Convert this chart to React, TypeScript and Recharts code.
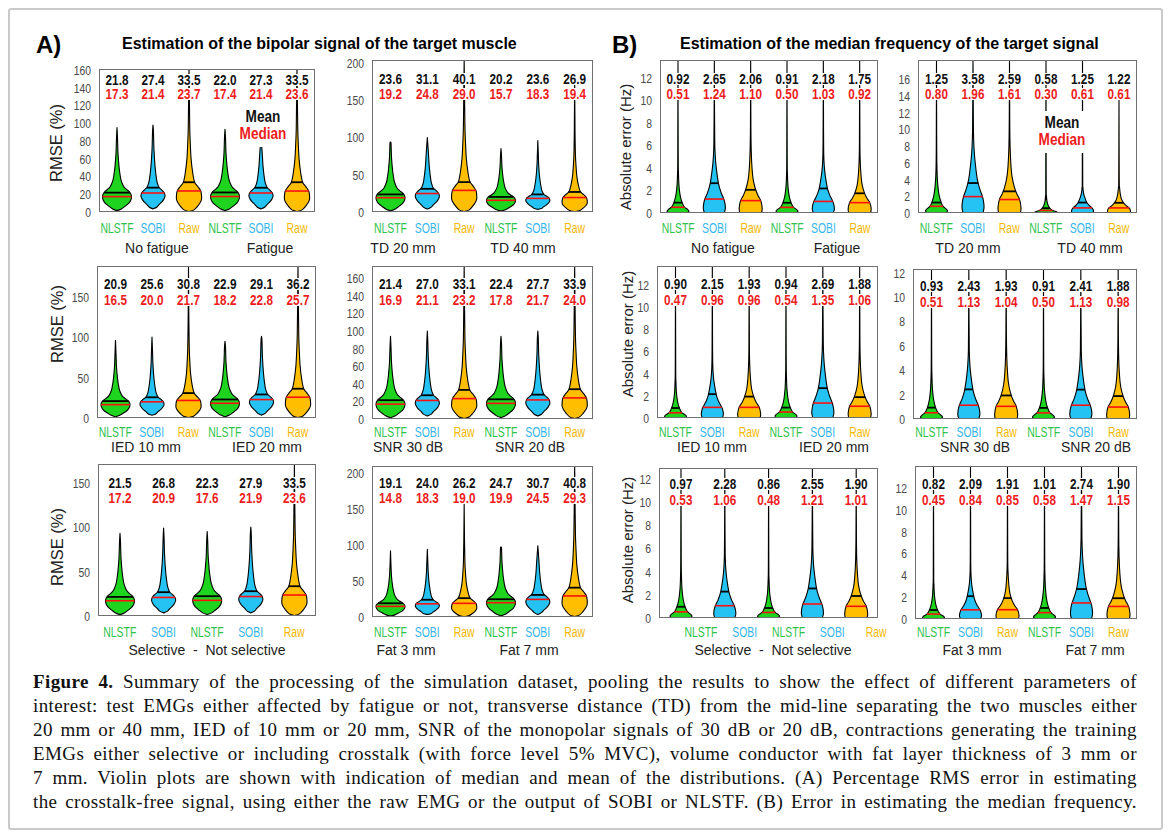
import React from 'react';
import { ComposedChart, Bar, XAxis, YAxis } from 'recharts';

type Method = 'NLSTF' | 'SOBI' | 'Raw';
interface Violin {
  method: Method;
  mean: number;
  median: number;
  min: number;
  max: number; // tail top; values above the axis run to the frame
}

// A) RMSE (%) of the estimated bipolar signal
const fatigueRmse: Violin[] = [
  { method: 'NLSTF', mean: 21.8, median: 17.3, min: 1.5, max: 95 },
  { method: 'SOBI', mean: 27.4, median: 21.4, min: 3.5, max: 98 },
  { method: 'Raw', mean: 33.5, median: 23.7, min: 0.5, max: 250 },
  { method: 'NLSTF', mean: 22.0, median: 17.4, min: 1.5, max: 93 },
  { method: 'SOBI', mean: 27.3, median: 21.4, min: 3.5, max: 77 },
  { method: 'Raw', mean: 33.5, median: 23.6, min: 0.5, max: 250 },
];
const tdRmse: Violin[] = [
  { method: 'NLSTF', mean: 23.6, median: 19.2, min: 1.5, max: 93 },
  { method: 'SOBI', mean: 31.1, median: 24.8, min: 4, max: 100 },
  { method: 'Raw', mean: 40.1, median: 29.0, min: 0.5, max: 250 },
  { method: 'NLSTF', mean: 20.2, median: 15.7, min: 1.5, max: 85 },
  { method: 'SOBI', mean: 23.6, median: 18.3, min: 3.5, max: 96 },
  { method: 'Raw', mean: 26.9, median: 19.4, min: 0.5, max: 178 },
];
const iedRmse: Violin[] = [
  { method: 'NLSTF', mean: 20.9, median: 16.5, min: 1.5, max: 96 },
  { method: 'SOBI', mean: 25.6, median: 20.0, min: 3.5, max: 100 },
  { method: 'Raw', mean: 30.8, median: 21.7, min: 0.5, max: 250 },
  { method: 'NLSTF', mean: 22.9, median: 18.2, min: 1.5, max: 95 },
  { method: 'SOBI', mean: 29.1, median: 22.8, min: 3.5, max: 101 },
  { method: 'Raw', mean: 36.2, median: 25.7, min: 0.5, max: 250 },
];
const snrRmse: Violin[] = [
  { method: 'NLSTF', mean: 21.4, median: 16.9, min: 1.5, max: 94 },
  { method: 'SOBI', mean: 27.0, median: 21.1, min: 3.5, max: 100 },
  { method: 'Raw', mean: 33.1, median: 23.2, min: 0.5, max: 250 },
  { method: 'NLSTF', mean: 22.4, median: 17.8, min: 1.5, max: 94 },
  { method: 'SOBI', mean: 27.7, median: 21.7, min: 3.5, max: 100 },
  { method: 'Raw', mean: 33.9, median: 24.0, min: 0.5, max: 250 },
];
const selectiveRmse: Violin[] = [
  { method: 'NLSTF', mean: 21.5, median: 17.2, min: 1.5, max: 93 },
  { method: 'SOBI', mean: 26.8, median: 20.9, min: 3.5, max: 99 },
  { method: 'NLSTF', mean: 22.3, median: 17.6, min: 1.5, max: 95 },
  { method: 'SOBI', mean: 27.9, median: 21.9, min: 3.5, max: 100 },
  { method: 'Raw', mean: 33.5, median: 23.6, min: 0.5, max: 250 },
];
const fatRmse: Violin[] = [
  { method: 'NLSTF', mean: 19.1, median: 14.8, min: 1.5, max: 92 },
  { method: 'SOBI', mean: 24.0, median: 18.3, min: 3.5, max: 94 },
  { method: 'Raw', mean: 26.2, median: 19.0, min: 0.5, max: 158 },
  { method: 'NLSTF', mean: 24.7, median: 19.9, min: 1.5, max: 96 },
  { method: 'SOBI', mean: 30.7, median: 24.5, min: 3.5, max: 99 },
  { method: 'Raw', mean: 40.8, median: 29.3, min: 0.5, max: 250 },
];

// B) absolute error of the median frequency (Hz)
const fatigueMdf: Violin[] = [
  { method: 'NLSTF', mean: 0.92, median: 0.51, min: 0, max: 20 },
  { method: 'SOBI', mean: 2.65, median: 1.24, min: 0, max: 20 },
  { method: 'Raw', mean: 2.06, median: 1.10, min: 0, max: 20 },
  { method: 'NLSTF', mean: 0.91, median: 0.50, min: 0, max: 20 },
  { method: 'SOBI', mean: 2.18, median: 1.03, min: 0, max: 20 },
  { method: 'Raw', mean: 1.75, median: 0.92, min: 0, max: 20 },
];
const tdMdf: Violin[] = [
  { method: 'NLSTF', mean: 1.25, median: 0.80, min: 0, max: 25 },
  { method: 'SOBI', mean: 3.58, median: 1.96, min: 0, max: 25 },
  { method: 'Raw', mean: 2.59, median: 1.61, min: 0, max: 25 },
  { method: 'NLSTF', mean: 0.58, median: 0.30, min: 0, max: 25 },
  { method: 'SOBI', mean: 1.25, median: 0.61, min: 0, max: 25 },
  { method: 'Raw', mean: 1.22, median: 0.61, min: 0, max: 14 },
];
const iedMdf: Violin[] = [
  { method: 'NLSTF', mean: 0.90, median: 0.47, min: 0, max: 20 },
  { method: 'SOBI', mean: 2.15, median: 0.96, min: 0, max: 20 },
  { method: 'Raw', mean: 1.93, median: 0.96, min: 0, max: 20 },
  { method: 'NLSTF', mean: 0.94, median: 0.54, min: 0, max: 20 },
  { method: 'SOBI', mean: 2.69, median: 1.35, min: 0, max: 20 },
  { method: 'Raw', mean: 1.88, median: 1.06, min: 0, max: 20 },
];
const snrMdf: Violin[] = [
  { method: 'NLSTF', mean: 0.93, median: 0.51, min: 0, max: 20 },
  { method: 'SOBI', mean: 2.43, median: 1.13, min: 0, max: 20 },
  { method: 'Raw', mean: 1.93, median: 1.04, min: 0, max: 20 },
  { method: 'NLSTF', mean: 0.91, median: 0.50, min: 0, max: 20 },
  { method: 'SOBI', mean: 2.41, median: 1.13, min: 0, max: 20 },
  { method: 'Raw', mean: 1.88, median: 0.98, min: 0, max: 20 },
];
const selectiveMdf: Violin[] = [
  { method: 'NLSTF', mean: 0.97, median: 0.53, min: 0, max: 20 },
  { method: 'SOBI', mean: 2.28, median: 1.06, min: 0, max: 20 },
  { method: 'NLSTF', mean: 0.86, median: 0.48, min: 0, max: 20 },
  { method: 'SOBI', mean: 2.55, median: 1.21, min: 0, max: 20 },
  { method: 'Raw', mean: 1.90, median: 1.01, min: 0, max: 20 },
];
const fatMdf: Violin[] = [
  { method: 'NLSTF', mean: 0.82, median: 0.45, min: 0, max: 20 },
  { method: 'SOBI', mean: 2.09, median: 0.84, min: 0, max: 20 },
  { method: 'Raw', mean: 1.91, median: 0.85, min: 0, max: 20 },
  { method: 'NLSTF', mean: 1.01, median: 0.58, min: 0, max: 20 },
  { method: 'SOBI', mean: 2.74, median: 1.47, min: 0, max: 20 },
  { method: 'Raw', mean: 1.90, median: 1.15, min: 0, max: 20 },
];

// relative density outlines: [value / median, relative width]
const densityA: Record<Method, number[][]> = {
  NLSTF: [[0.2, 0.3], [0.37, 0.55], [0.58, 0.82], [0.8, 0.96], [1, 1], [1.18, 0.95], [1.33, 0.83], [1.5, 0.62], [1.68, 0.45], [2.08, 0.28], [2.5, 0.2], [2.95, 0.14], [3.8, 0.07], [4.8, 0.035]],
  SOBI: [[0.25, 0.3], [0.39, 0.5], [0.52, 0.72], [0.65, 0.88], [0.82, 1], [1, 0.95], [1.13, 0.78], [1.28, 0.52], [1.45, 0.4], [1.7, 0.3], [2.4, 0.17], [3.3, 0.08], [4.2, 0.04]],
  Raw: [[0.1, 0.4], [0.27, 0.68], [0.45, 0.9], [0.6, 1], [0.8, 1], [1, 0.94], [1.2, 0.72], [1.42, 0.45], [1.85, 0.3], [2.5, 0.17], [3.3, 0.1], [4, 0.06], [5.5, 0.03]],
};
const densityB: Record<Method, number[][]> = {
  NLSTF: [[0, 0.85], [0.3, 1], [0.6, 0.88], [1, 0.6], [1.4, 0.47], [1.8, 0.38], [2.5, 0.26], [3.5, 0.16], [5, 0.08], [7, 0.04], [10, 0.02]],
  SOBI: [[0, 0.9], [0.3, 1], [0.65, 0.97], [1, 0.86], [1.5, 0.6], [2.1, 0.38], [3.2, 0.18], [4, 0.09], [5, 0.04], [7, 0.02]],
  Raw: [[0, 0.95], [0.4, 1], [1, 0.88], [1.4, 0.65], [1.9, 0.43], [2.7, 0.22], [3.6, 0.12], [5, 0.05], [7, 0.02]],
};

const FILL: Record<Method, string> = { NLSTF: '#1fd41f', SOBI: '#25c3f3', Raw: '#ffbe00' };
const TICK_COLOR: Record<Method, string> = { NLSTF: '#2fc24e', SOBI: '#37b6ec', Raw: '#f4b800' };
const WIDTH_A: Record<Method, number> = { NLSTF: 29, SOBI: 24, Raw: 25 };
const WIDTH_B: Record<Method, number> = { NLSTF: 22, SOBI: 22, Raw: 23 };

const SANS = '"Liberation Sans", Arial, sans-serif';
const SERIF = '"Liberation Serif", "Times New Roman", serif';

const Y_W = 40;
const X_H = 40;
const PAD_T = 12;
const PAD_R = 34;
const TICK_Y = [228, 432, 632];
const GROUP_Y = [248, 447, 650];

interface PanelCfg {
  data: Violin[];
  fam: 'A' | 'B';
  box: [number, number, number, number];
  yMax: number;
  ticks: number[];
  labels: [number, number];
  row: number;
  yLabel?: [string, number, number];
  groups: [string, number][];
  tickDx?: number;
}

const rmseTicks160 = [0, 20, 40, 60, 80, 100, 120, 140, 160];
const hzTicks12 = [0, 2, 4, 6, 8, 10, 12];

const panels: PanelCfg[] = [
  { data: fatigueRmse, fam: 'A', box: [99, 69, 315, 212], yMax: 161, ticks: rmseTicks160, labels: [80, 94], row: 0, yLabel: ['RMSE (%)', 56, 143], groups: [['No fatigue', 157], ['Fatigue', 270]] },
  { data: tdRmse, fam: 'A', box: [372, 60, 593, 212], yMax: 204, ticks: [0, 50, 100, 150, 200], labels: [79, 94], row: 0, groups: [['TD 20 mm', 403], ['TD 40 mm', 523]] },
  { data: fatigueMdf, fam: 'B', box: [660, 60, 878, 213], yMax: 13.6, ticks: hzTicks12, labels: [79, 94], row: 0, yLabel: ['Absolute error (Hz)', 625, 147], groups: [['No fatigue', 723], ['Fatigue', 837]] },
  { data: tdMdf, fam: 'B', box: [918, 60, 1137, 213], yMax: 18.3, ticks: [0, 2, 4, 6, 8, 10, 12, 14, 16], labels: [79, 94], row: 0, groups: [['TD 20 mm', 968], ['TD 40 mm', 1090]] },
  { data: iedRmse, fam: 'A', box: [97, 266, 316, 418], yMax: 188, ticks: [0, 50, 100, 150], labels: [284, 300], row: 1, yLabel: ['RMSE (%)', 57, 324], groups: [['IED 10 mm', 146], ['IED 20 mm', 267]] },
  { data: snrRmse, fam: 'A', box: [372, 266, 593, 419], yMax: 174, ticks: rmseTicks160, labels: [284, 300], row: 1, groups: [['SNR 30 dB', 408], ['SNR 20 dB', 530]] },
  { data: iedMdf, fam: 'B', box: [657, 266, 878, 418], yMax: 13.7, ticks: hzTicks12, labels: [284, 300], row: 1, yLabel: ['Absolute error (Hz)', 627, 334], groups: [['IED 10 mm', 712], ['IED 20 mm', 834]] },
  { data: snrMdf, fam: 'B', box: [913, 269, 1137, 419], yMax: 12.3, ticks: hzTicks12, labels: [286, 302], row: 1, groups: [['SNR 30 dB', 975], ['SNR 20 dB', 1096]] },
  { data: selectiveRmse, fam: 'A', box: [98, 464, 316, 616], yMax: 171, ticks: [0, 50, 100, 150], labels: [483, 498], row: 2, yLabel: ['RMSE (%)', 57, 547], groups: [['Selective  -  Not selective', 207]] },
  { data: fatRmse, fam: 'A', box: [372, 466, 593, 617], yMax: 210, ticks: [0, 50, 100, 150, 200], labels: [483, 498], row: 2, groups: [['Fat 3 mm', 406], ['Fat 7 mm', 529]] },
  { data: selectiveMdf, fam: 'B', box: [659, 468, 878, 618], yMax: 12.95, ticks: hzTicks12, labels: [484, 500], row: 2, yLabel: ['Absolute error (Hz)', 627, 540], groups: [['Selective  -  Not selective', 773]], tickDx: 20 },
  { data: fatMdf, fam: 'B', box: [915, 466, 1137, 619], yMax: 14, ticks: hzTicks12, labels: [484, 500], row: 2, groups: [['Fat 3 mm', 972], ['Fat 7 mm', 1095]] },
];

const captionLines = [
  'Summary of the processing of the simulation dataset, pooling the results to show the effect of different parameters of',
  'interest: test EMGs either affected by fatigue or not, transverse distance (TD) from the mid-line separating the two muscles either',
  '20 mm or 40 mm, IED of 10 mm or 20 mm, SNR of the monopolar signals of 30 dB or 20 dB, contractions generating the training',
  'EMGs either selective or including crosstalk (with force level 5% MVC), volume conductor with fat layer thickness of 3 mm or',
  '7 mm. Violin plots are shown with indication of median and mean of the distributions. (A) Percentage RMS error in estimating',
  'the crosstalk-free signal, using either the raw EMG or the output of SOBI or NLSTF. (B) Error in estimating the median frequency.',
];

// horizontally condensed svg text (the figure's labels are in a narrow face)
function NText(props: {
  x: number;
  y: number;
  sx: number;
  anchor: 'start' | 'middle' | 'end';
  size: number;
  fill: string;
  bold?: boolean;
  children: React.ReactNode;
}) {
  return (
    <text
      transform={`translate(${props.x} ${props.y}) scale(${props.sx} 1)`}
      textAnchor={props.anchor}
      dominantBaseline="central"
      fontFamily={SANS}
      fontWeight={props.bold ? 700 : 400}
      fontSize={props.size}
      fill={props.fill}
    >
      {props.children}
    </text>
  );
}

type Pt = { x: number; y: number };
function smooth(pts: Pt[]): string {
  let d = '';
  for (let i = 0; i < pts.length - 1; i++) {
    const p0 = pts[i - 1] || pts[i];
    const p1 = pts[i];
    const p2 = pts[i + 1];
    const p3 = pts[i + 2] || p2;
    const c1x = p1.x + (p2.x - p0.x) / 6;
    const c1y = p1.y + (p2.y - p0.y) / 6;
    const c2x = p2.x - (p3.x - p1.x) / 6;
    const c2y = p2.y - (p3.y - p1.y) / 6;
    d += ` C${c1x.toFixed(2)},${c1y.toFixed(2)} ${c2x.toFixed(2)},${c2y.toFixed(2)} ${p2.x.toFixed(2)},${p2.y.toFixed(2)}`;
  }
  return d;
}

function Panel({ p }: { p: PanelCfg }) {
  const [bl, bt, br, bb] = p.box;
  const bw = br - bl;
  const bh = bb - bt;
  const density = p.fam === 'A' ? densityA : densityB;
  const widths = p.fam === 'A' ? WIDTH_A : WIDTH_B;
  const digits = p.fam === 'A' ? 1 : 2;
  const svgY = (pageY: number) => pageY - bt + PAD_T;

  const shape = (props: any) => {
    const { x, y, width, height, payload } = props;
    const d = payload as Violin;
    const cx = x + width / 2;
    const lo = d.min;
    const hi = Math.min(d.max, p.yMax);
    const yTop = Math.min(y, y + height);
    const yBot = Math.max(y, y + height);
    const ppu = (yBot - yTop) / (hi - lo);
    const py = (v: number) => yBot - (v - lo) * ppu;
    const prof = density[d.method];
    const W = widths[d.method];

    const pts: { v: number; w: number }[] = [{ v: lo, w: p.fam === 'B' ? prof[0][1] : 0 }];
    prof.forEach(([r, w]) => {
      const v = r * d.median;
      if (v > lo + 1e-9 && v < hi) pts.push({ v, w });
    });
    pts.push({ v: hi, w: 0 });
    const widthAt = (v: number) => {
      for (let i = 0; i < pts.length - 1; i++) {
        if (v >= pts[i].v && v <= pts[i + 1].v) {
          const t = (v - pts[i].v) / (pts[i + 1].v - pts[i].v);
          return pts[i].w + t * (pts[i + 1].w - pts[i].w);
        }
      }
      return 0;
    };
    const right = pts.map((q) => ({ x: cx + (q.w * W) / 2, y: py(q.v) }));
    const left = pts.map((q) => ({ x: cx - (q.w * W) / 2, y: py(q.v) })).reverse();
    const path = `M${right[0].x},${right[0].y}${smooth(right)} L${left[0].x},${left[0].y}${smooth(left)} Z`;
    const hwMean = (widthAt(d.mean) * W) / 2;
    const hwMed = (widthAt(d.median) * W) / 2;
    const meanY = svgY(p.labels[0]);
    const medY = svgY(p.labels[1]);
    return (
      <g>
        <path d={path} fill={FILL[d.method]} stroke="#000" strokeWidth={1.1} strokeLinejoin="round" />
        <line x1={cx - hwMed} x2={cx + hwMed} y1={py(d.median)} y2={py(d.median)} stroke="#ff1010" strokeWidth={1.6} />
        <line x1={cx - hwMean} x2={cx + hwMean} y1={py(d.mean)} y2={py(d.mean)} stroke="#000" strokeWidth={1.8} />
        <rect x={cx - 13} y={meanY - 6} width={26} height={12} fill="#fff" />
        <rect x={cx - 13} y={medY - 6} width={26} height={12} fill="#fff" />
        <NText x={cx} y={meanY} sx={0.84} anchor="middle" size={14} fill="#111" bold>
          {d.mean.toFixed(digits)}
        </NText>
        <NText x={cx} y={medY} sx={0.84} anchor="middle" size={14} fill="#ee1c1c" bold>
          {d.median.toFixed(digits)}
        </NText>
      </g>
    );
  };

  const xTick = (props: any) => {
    const m = props.payload.value as Method;
    return (
      <NText x={props.x + (p.tickDx || 0)} y={svgY(TICK_Y[p.row])} sx={0.72} anchor="middle" size={14.5} fill={TICK_COLOR[m]}>
        {m}
      </NText>
    );
  };

  const yTick = (props: any) => (
    <NText x={props.x} y={props.y} sx={0.8} anchor="end" size={13} fill="#4a4a4a">
      {props.payload.value}
    </NText>
  );

  return (
    <>
      <div style={{ position: 'absolute', left: bl - Y_W, top: bt - PAD_T }}>
        <ComposedChart
          width={Y_W + bw + PAD_R}
          height={PAD_T + bh + X_H}
          data={p.data}
          margin={{ top: PAD_T, right: PAD_R, bottom: 0, left: 0 }}
          barCategoryGap={0}
        >
          <XAxis dataKey="method" axisLine={false} tickLine={false} height={X_H} interval={0} tick={xTick} />
          <YAxis
            type="number"
            domain={[0, p.yMax]}
            allowDataOverflow
            ticks={p.ticks}
            interval={0}
            width={Y_W}
            axisLine={false}
            tickLine={false}
            tick={yTick}
          />
          <Bar
            dataKey={(d: Violin) => [d.min, Math.min(d.max, p.yMax)]}
            shape={shape}
            isAnimationActive={false}
          />
        </ComposedChart>
      </div>
      <div
        style={{
          position: 'absolute',
          left: bl,
          top: bt,
          width: bw,
          height: bh,
          border: '1.5px solid #707070',
          boxSizing: 'border-box',
          pointerEvents: 'none',
        }}
      />
      {p.yLabel && (
        <div
          style={{
            position: 'absolute',
            left: p.yLabel[1],
            top: p.yLabel[2],
            transform: 'translate(-50%, -50%) rotate(-90deg)',
            whiteSpace: 'nowrap',
            fontFamily: SANS,
            fontSize: p.fam === 'A' ? 16.5 : 15,
            color: '#222',
          }}
        >
          {p.yLabel[0]}
        </div>
      )}
      {p.groups.map(([g, gx]) => (
        <div
          key={g}
          style={{
            position: 'absolute',
            left: gx,
            top: GROUP_Y[p.row],
            transform: 'translate(-50%, -50%)',
            whiteSpace: 'pre',
            fontFamily: SANS,
            fontSize: 14,
            color: '#222',
          }}
        >
          {g}
        </div>
      ))}
    </>
  );
}

function Legend({ cx, top }: { cx: number; top: number }) {
  return (
    <div
      style={{
        position: 'absolute',
        left: cx - 28,
        top,
        width: 56,
        height: 42,
        background: '#fff',
        textAlign: 'center',
        fontFamily: SANS,
        fontWeight: 700,
        fontSize: 16,
        lineHeight: '17px',
        paddingTop: 3,
        boxSizing: 'border-box',
      }}
    >
      <div style={{ color: '#111', transform: 'scaleX(0.85)' }}>Mean</div>
      <div style={{ color: '#ee1c1c', transform: 'scaleX(0.85)' }}>Median</div>
    </div>
  );
}

export default function App() {
  return (
    <div style={{ position: 'absolute', left: 0, top: 0, width: 1169, height: 838, background: '#fff' }}>
      <div
        style={{
          position: 'absolute',
          left: 8,
          top: 8,
          width: 1155,
          height: 822,
          border: '2px solid #cacaca',
          borderRadius: 3,
          boxSizing: 'border-box',
        }}
      />
      <div style={{ position: 'absolute', left: 36, top: 31, fontFamily: SANS, fontWeight: 700, fontSize: 24 }}>A)</div>
      <div style={{ position: 'absolute', left: 122, top: 35, fontFamily: SANS, fontWeight: 700, fontSize: 16 }}>
        Estimation of the bipolar signal of the target muscle
      </div>
      <div style={{ position: 'absolute', left: 612, top: 31, fontFamily: SANS, fontWeight: 700, fontSize: 24 }}>B)</div>
      <div style={{ position: 'absolute', left: 680, top: 35, fontFamily: SANS, fontWeight: 700, fontSize: 16 }}>
        Estimation of the median frequency of the target signal
      </div>

      {panels.map((p, i) => (
        <Panel key={i} p={p} />
      ))}

      <Legend cx={263} top={105} />
      <Legend cx={1062} top={111} />

      {captionLines.map((line, i) => (
        <div
          key={i}
          style={{
            position: 'absolute',
            left: 33,
            top: 670 + i * 23.9,
            width: 1104,
            fontFamily: SERIF,
            fontSize: 19,
            letterSpacing: 0.4,
            lineHeight: '24px',
            color: '#111',
            textAlign: 'justify',
            textAlignLast: 'justify',
          }}
        >
          {i === 0 && <b>Figure 4. </b>}
          {line}
        </div>
      ))}
    </div>
  );
}
